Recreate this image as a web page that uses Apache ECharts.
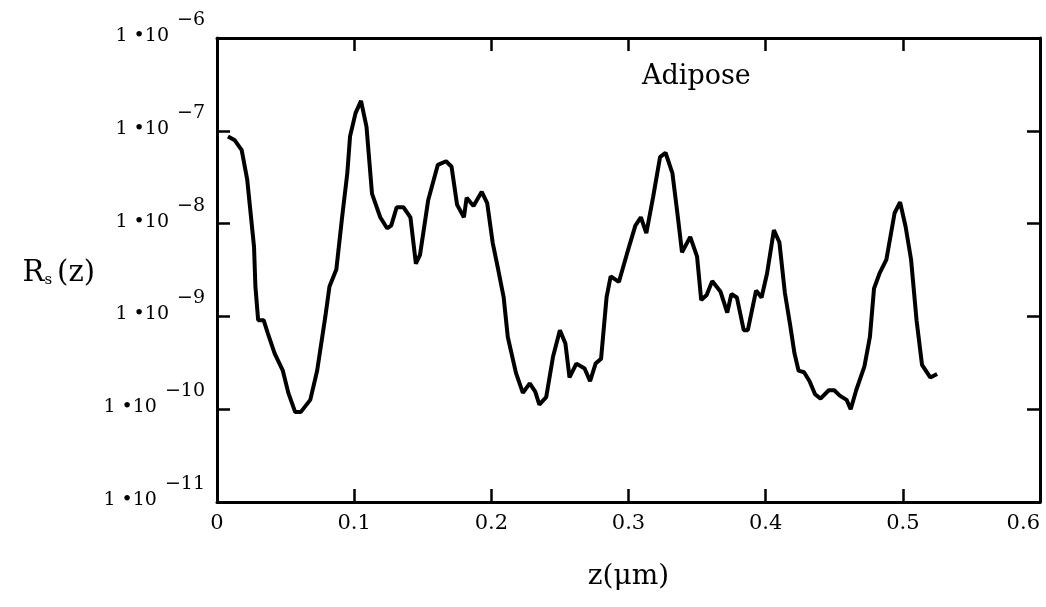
<!DOCTYPE html>
<html>
<head>
<meta charset="utf-8">
<script src="https://cdn.jsdelivr.net/npm/echarts@6/dist/echarts.min.js"></script>
<style>
html,body{margin:0;padding:0;background:#fff;}
#chart{width:1046px;height:607px;}
</style>
</head>
<body>
<div id="chart"></div>
<script>
// z positions (µm)
var zValues = [
0.008,0.013,0.018,0.022,0.025,0.027,0.028,0.030,0.034,0.037,0.042,0.048,0.052,0.057,0.061,0.068,0.073,0.079,0.082,0.087,
0.091,0.095,0.097,0.101,0.105,0.109,0.113,0.119,0.124,0.127,0.131,0.136,0.141,0.145,0.148,0.154,0.161,0.167,0.171,0.175,
0.180,0.182,0.187,0.193,0.197,0.201,0.205,0.209,0.212,0.218,0.223,0.228,0.232,0.235,0.240,0.245,0.250,0.254,0.257,0.262,
0.268,0.272,0.276,0.280,0.284,0.287,0.293,0.299,0.305,0.309,0.313,0.318,0.323,0.327,0.332,0.336,0.339,0.345,0.350,0.353,
0.357,0.361,0.367,0.372,0.375,0.379,0.384,0.387,0.393,0.397,0.401,0.406,0.410,0.414,0.418,0.421,0.424,0.428,0.432,0.436,
0.440,0.446,0.450,0.454,0.459,0.462,0.466,0.472,0.476,0.479,0.483,0.488,0.494,0.498,0.502,0.506,0.510,0.514,0.520,0.525
];
// Rs(z) values
var rsValues = [
8.7e-8,7.9e-8,6.2e-8,3.0e-8,1.1e-8,5.6e-9,2.1e-9,9.1e-10,9.1e-10,6.6e-10,4.0e-10,2.6e-10,1.5e-10,9.3e-11,9.3e-11,1.26e-10,2.6e-10,1.0e-9,2.1e-9,3.2e-9,
1.1e-8,3.5e-8,8.7e-8,1.55e-7,2.1e-7,1.1e-7,2.1e-8,1.17e-8,8.9e-9,9.5e-9,1.5e-8,1.5e-8,1.17e-8,3.7e-9,4.6e-9,1.8e-8,4.3e-8,4.7e-8,4.1e-8,1.6e-8,
1.17e-8,1.9e-8,1.55e-8,2.2e-8,1.66e-8,6.2e-9,3.2e-9,1.6e-9,6.0e-10,2.45e-10,1.5e-10,1.9e-10,1.55e-10,1.12e-10,1.35e-10,3.7e-10,7.1e-10,5.1e-10,2.2e-10,3.1e-10,
2.75e-10,2.0e-10,3.1e-10,3.5e-10,1.6e-9,2.7e-9,2.35e-9,4.8e-9,9.5e-9,1.17e-8,7.9e-9,1.95e-8,5.2e-8,5.8e-8,3.5e-8,1.17e-8,4.9e-9,7.2e-9,4.4e-9,1.5e-9,
1.7e-9,2.4e-9,1.86e-9,1.1e-9,1.74e-9,1.6e-9,7.1e-10,7.1e-10,1.9e-9,1.6e-9,2.9e-9,8.5e-9,6.3e-9,1.8e-9,7.8e-10,4.0e-10,2.6e-10,2.5e-10,2.0e-10,1.45e-10,
1.3e-10,1.6e-10,1.6e-10,1.4e-10,1.26e-10,1.0e-10,1.6e-10,2.9e-10,6.0e-10,2.0e-9,2.9e-9,4.1e-9,1.3e-8,1.7e-8,9.3e-9,4.1e-9,9.1e-10,3.0e-10,2.2e-10,2.4e-10
];
var xTicks = [0, 0.1, 0.2, 0.3, 0.4, 0.5, 0.6];
var yExponents = [-6, -7, -8, -9, -10, -11];
var seriesName = 'Adipose';

var serif = '"DejaVu Serif", "Liberation Serif", serif';
var pts = zValues.map(function (z, i) { return [z, rsValues[i]]; });

var chart = echarts.init(document.getElementById('chart'));
var frameLine = { show: true, onZero: false, lineStyle: { color: '#000', width: 3 } };
var inTick = { show: true, inside: true, length: 13, lineStyle: { color: '#000', width: 2.5 } };

chart.setOption({
  backgroundColor: '#fff',
  animation: false,
  title: {
    text: seriesName,
    left: 637, top: 58,
    textStyle: { fontFamily: serif, fontSize: 27, fontWeight: 'normal', color: '#000' }
  },
  grid: { left: 217, top: 38, right: 6, bottom: 105, containLabel: false, outerBoundsMode: 'none' },
  xAxis: [{
    type: 'value', min: 0, max: 0.6, interval: 0.1, position: 'bottom',
    axisLine: frameLine, axisTick: inTick, splitLine: { show: false },
    axisLabel: {
      margin: 11, color: '#000', fontFamily: serif, fontSize: 21, alignMaxLabel: 'right',
      formatter: function (v) {
        var s = Math.round(v * 10) / 10;
        return xTicks.indexOf(s) >= 0 ? String(s) : '';
      }
    },
    name: 'z(\u03bcm)', nameLocation: 'middle', nameGap: 61,
    nameTextStyle: { fontFamily: serif, fontSize: 28, color: '#000' }
  }, {
    type: 'value', min: 0, max: 0.6, interval: 0.1, position: 'top',
    axisLine: frameLine, axisTick: inTick, axisLabel: { show: false }, splitLine: { show: false }
  }],
  yAxis: [{
    type: 'log', logBase: 10, min: 1e-11, max: 1e-6, position: 'left',
    axisLine: frameLine, axisTick: inTick, splitLine: { show: false },
    axisLabel: {
      margin: 12, align: 'right', padding: [0, 0, 20, 0],
      formatter: function (v) {
        var e = Math.round(Math.log(v) / Math.LN10);
        if (yExponents.indexOf(e) < 0) return '';
        return '{m|1 \u202210}{e|\u2212' + (-e) + '}';
      },
      rich: {
        m: { fontFamily: serif, fontSize: 19, color: '#000', lineHeight: 35, verticalAlign: 'bottom', padding: [0, 8, 0, 0] },
        e: { fontFamily: serif, fontSize: 19, color: '#000', lineHeight: 35, verticalAlign: 'top' }
      }
    },
    name: '{r|R}{s|s}{r|(z)}', nameLocation: 'middle', nameGap: 122, nameRotate: 0,
    nameTextStyle: {
      align: 'right',
      rich: {
        r: { fontFamily: serif, fontSize: 29, color: '#000', verticalAlign: 'bottom', lineHeight: 36 },
        s: { fontFamily: serif, fontSize: 15, color: '#000', verticalAlign: 'bottom', lineHeight: 30, padding: [0, 5, 0, 0] }
      }
    }
  }, {
    type: 'log', logBase: 10, min: 1e-11, max: 1e-6, position: 'right',
    axisLine: frameLine, axisTick: inTick, axisLabel: { show: false }, splitLine: { show: false }
  }],
  series: [{
    name: seriesName, type: 'line', data: pts, showSymbol: false, symbol: 'none',
    lineStyle: { color: '#000', width: 4 }, xAxisIndex: 0, yAxisIndex: 0
  }]
});
</script>
</body>
</html>
